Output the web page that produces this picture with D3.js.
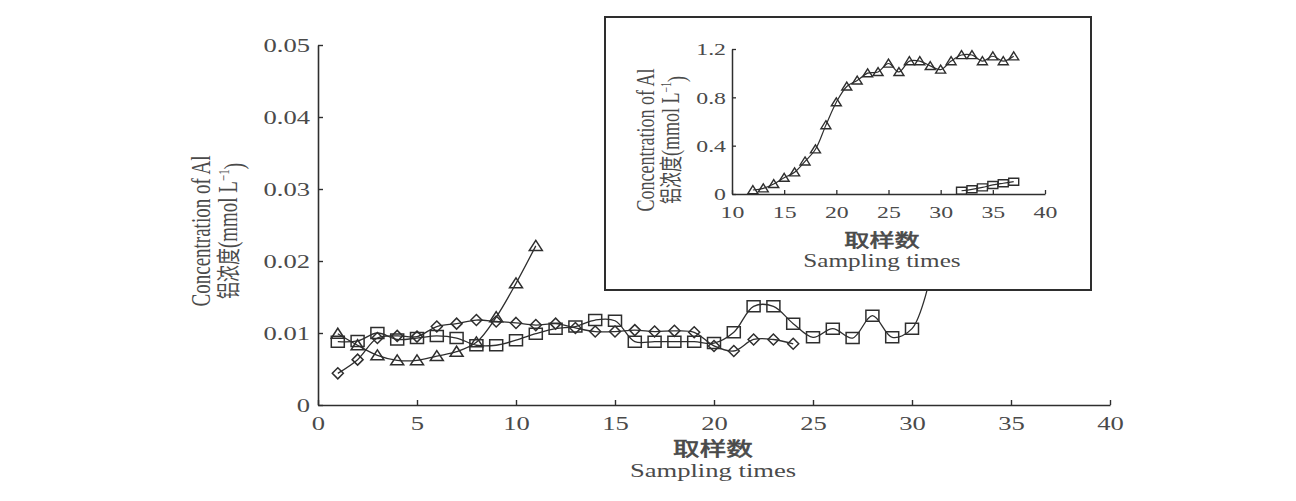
<!DOCTYPE html>
<html>
<head>
<meta charset="utf-8">
<script src="https://cdn.jsdelivr.net/npm/d3@7"></script>
<style>
  html, body { margin: 0; padding: 0; background: #fff; }
  svg { display: block; }
</style>
</head>
<body>
<svg id="chart" width="1296" height="501"></svg>
<script>
// ---------------- DATA ----------------
// Main plot (sampling times 1..n)
const diamondTimes = d3.range(1, 25);
const diamondVals = [0.0044,0.0063,0.0093,0.0096,0.0095,0.0109,0.0113,0.0118,0.0116,0.0114,0.0111,0.0113,0.0107,0.0102,0.0102,0.0104,0.0102,0.0103,0.0101,0.0082,0.0075,0.0091,0.0091,0.0085];
const triangleTimes = d3.range(1, 12);
const triangleVals = [0.0099,0.0083,0.0069,0.0062,0.0062,0.0068,0.0074,0.0087,0.0122,0.0169,0.0221];
const squareTimes = d3.range(1, 32);
const squareVals = [0.0088,0.0089,0.0100,0.0091,0.0093,0.0096,0.0093,0.0083,0.0083,0.0090,0.0099,0.0106,0.0109,0.0118,0.0117,0.0088,0.0088,0.0088,0.0088,0.0086,0.0101,0.0137,0.0137,0.0113,0.0094,0.0106,0.0093,0.0124,0.0094,0.0106,0.0186];
const mainXTicks = [0,5,10,15,20,25,30,35,40];
const mainYTicks = [0,0.01,0.02,0.03,0.04,0.05];

// Inset plot
const insetTriTimes = d3.range(12, 38);
const insetTriVals = [0.033,0.047,0.083,0.135,0.18,0.27,0.37,0.57,0.76,0.89,0.94,1.00,1.01,1.08,1.01,1.10,1.10,1.06,1.03,1.10,1.15,1.15,1.10,1.14,1.10,1.14];
const insetSqTimes = d3.range(32, 38);
const insetSqVals = [0.027,0.039,0.055,0.075,0.089,0.102];
const insetXTicks = [10,15,20,25,30,35,40];
const insetYTicks = [0,0.4,0.8,1.2];

const yLabelLine1 = "Concentration of Al";
const yLabelCN = "铝浓度";
const yLabelUnit = "(mmol  L";
const yLabelSup = "−1";
const xLabelCN = "取样数";
const xLabelEN = "Sampling times";

// ---------------- STYLE ----------------
const SX = 1.4;                       // horizontal stretch of the scanned figure
const INK = "#2e2e2e";
const TXT = "#4a4a4a";
const SERIF = "'Liberation Serif','Times New Roman',serif";
const CJK = "'Noto Sans CJK SC','Noto Sans CJK JP',sans-serif";

const svg = d3.select("#chart");

function stext(g, x, y, opts) {
  const t = g.append("text")
    .attr("transform", `translate(${x},${y}) scale(${SX},1)` + (opts.rotate ? " rotate(-90)" : ""))
    .attr("text-anchor", opts.anchor || "middle")
    .attr("fill", TXT)
    .style("font-family", opts.family || SERIF)
    .style("font-size", opts.size + "px");
  if (opts.dy) t.attr("dy", opts.dy);
  if (opts.weight) t.style("font-weight", opts.weight);
  if (opts.stroke) t.attr("stroke", TXT).attr("stroke-width", opts.stroke);
  return t;
}

function markerPath(type, w, h) {
  const a = w / 2, b = h / 2;
  if (type === "square") return `M${-a},${-b}H${a}V${b}H${-a}Z`;
  if (type === "diamond") return `M0,${-b}L${a},0L0,${b}L${-a},0Z`;
  // triangle
  return `M0,${-b * 1.1}L${a},${b * 0.9}L${-a},${b * 0.9}Z`;
}

function drawSeries(g, xs, ys, times, vals, type, w, h, lw) {
  const pts = times.map((t, i) => [xs(t), ys(vals[i])]);
  g.append("path")
    .attr("d", d3.line().curve(d3.curveCatmullRom.alpha(0.5))(pts))
    .attr("fill", "none").attr("stroke", INK).attr("stroke-width", lw);
  g.selectAll(null).data(pts).enter().append("path")
    .attr("transform", d => `translate(${d[0]},${d[1]})`)
    .attr("d", markerPath(type, w, h))
    .attr("fill", "none").attr("stroke", INK).attr("stroke-width", lw + 0.2);
}

// ---------------- MAIN PLOT ----------------
const mx = d3.scaleLinear([0, 40], [318, 1110]);
const my = d3.scaleLinear([0, 0.05], [405, 45]);

const main = svg.append("g");

const gx = main.append("g").attr("transform", `translate(0,${my(0)})`)
  .call(d3.axisBottom(mx).tickValues(mainXTicks).tickSizeInner(-5).tickSizeOuter(0).tickFormat(d3.format("d")));
const gy = main.append("g").attr("transform", `translate(${mx(0)},0)`)
  .call(d3.axisLeft(my).tickValues(mainYTicks).tickSizeInner(-5).tickSizeOuter(0)
    .tickFormat(d => d === 0 ? "0" : d3.format(".2f")(d)));
[gx, gy].forEach(g => {
  g.select(".domain").attr("stroke", INK).attr("stroke-width", 1.6);
  g.selectAll(".tick line").attr("stroke", INK).attr("stroke-width", 1.4);
  g.selectAll(".tick text").attr("fill", TXT).style("font-family", SERIF).style("font-size", "19px")
    .attr("x", 0).attr("y", 0);
});
gx.selectAll(".tick text").attr("dy", 0).attr("transform", `translate(0,25) scale(${SX},1)`);
gy.selectAll(".tick text").attr("dy", "0.34em").attr("text-anchor", "end").attr("transform", `translate(-8,0) scale(${SX},1)`);

drawSeries(main, mx, my, squareTimes, squareVals, "square", 13, 11, 1.3);
drawSeries(main, mx, my, diamondTimes, diamondVals, "diamond", 11, 11, 1.3);
drawSeries(main, mx, my, triangleTimes, triangleVals, "triangle", 13, 10, 1.3);

// main axis labels
const yl1 = stext(main, 201, 231, { rotate: true, size: 19, dy: "0.35em" });
yl1.text(yLabelLine1);
const yl2 = stext(main, 228, 231, { rotate: true, size: 19, dy: "0.35em" });
yl2.append("tspan").style("font-family", CJK).style("font-size", "17px").text(yLabelCN);
yl2.append("tspan").text(yLabelUnit);
yl2.append("tspan").attr("dy", "-0.55em").style("font-size", "11px").text(yLabelSup);
yl2.append("tspan").attr("dy", "0.55em").text(")");

stext(main, 713, 456, { size: 19, family: CJK, stroke: 0.6 }).text(xLabelCN);
stext(main, 713, 477, { size: 19 }).text(xLabelEN);

// ---------------- INSET ----------------
const inset = svg.append("g");
inset.append("rect").attr("x", 605).attr("y", 17).attr("width", 486).attr("height", 273)
  .attr("fill", "#fff").attr("stroke", INK).attr("stroke-width", 2);

const ix = d3.scaleLinear([10, 40], [732, 1045]);
const iy = d3.scaleLinear([0, 1.2], [194, 49]);

const igx = inset.append("g").attr("transform", `translate(0,${iy(0)})`)
  .call(d3.axisBottom(ix).tickValues(insetXTicks).tickSizeInner(-4).tickSizeOuter(0).tickFormat(d3.format("d")));
const igy = inset.append("g").attr("transform", `translate(${ix(10)},0)`)
  .call(d3.axisLeft(iy).tickValues(insetYTicks).tickSizeInner(-4).tickSizeOuter(0)
    .tickFormat(d => d === 0 ? "0" : d3.format(".1f")(d)));
[igx, igy].forEach(g => {
  g.select(".domain").attr("stroke", INK).attr("stroke-width", 1.5);
  g.selectAll(".tick line").attr("stroke", INK).attr("stroke-width", 1.3);
  g.selectAll(".tick text").attr("fill", TXT).style("font-family", SERIF).style("font-size", "17px")
    .attr("x", 0).attr("y", 0);
});
igx.selectAll(".tick text").attr("dy", 0).attr("transform", `translate(0,24) scale(${SX},1)`);
igy.selectAll(".tick text").attr("dy", "0.34em").attr("text-anchor", "end").attr("transform", `translate(-6,0) scale(${SX},1)`);

drawSeries(inset, ix, iy, insetTriTimes, insetTriVals, "triangle", 10, 8, 1.2);
drawSeries(inset, ix, iy, insetSqTimes, insetSqVals, "square", 10, 7, 1.2);

const iyl1 = stext(inset, 645, 140, { rotate: true, size: 18, dy: "0.35em" });
iyl1.text(yLabelLine1);
const iyl2 = stext(inset, 670, 140, { rotate: true, size: 18, dy: "0.35em" });
iyl2.append("tspan").style("font-family", CJK).style("font-size", "16px").text(yLabelCN);
iyl2.append("tspan").text(yLabelUnit);
iyl2.append("tspan").attr("dy", "-0.55em").style("font-size", "10px").text(yLabelSup);
iyl2.append("tspan").attr("dy", "0.55em").text(")");

stext(inset, 882, 247, { size: 18, family: CJK, stroke: 0.6 }).text(xLabelCN);
stext(inset, 882, 267, { size: 18 }).text(xLabelEN);
</script>
</body>
</html>
